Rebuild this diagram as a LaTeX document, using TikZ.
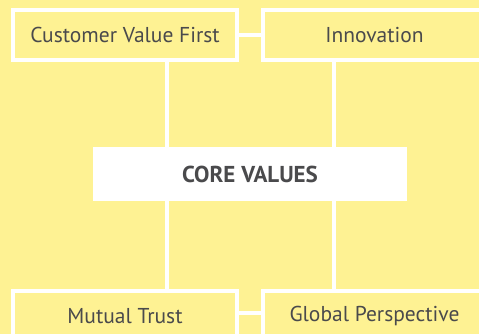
\documentclass[tikz,border=0pt]{standalone}
\usepackage{fontspec}
\setmainfont{PT Sans}
\definecolor{bgyellow}{HTML}{FEF293}
\definecolor{txtgray}{HTML}{4A4A4C}
\begin{document}
\begin{tikzpicture}[x=1pt,y=-1pt,
  valbox/.style={draw=white, line width=4pt, fill=bgyellow, minimum width=224pt, minimum height=50pt, inner sep=0pt, text=txtgray, font=\fontsize{21.5}{25}\selectfont},
  corebox/.style={fill=white, minimum width=314pt, minimum height=54pt, inner sep=0pt, text=txtgray, font=\fontsize{23}{27}\selectfont\bfseries},
  link/.style={draw=white, line width=4pt}]
\useasboundingbox (0,0) rectangle (479,334);
\fill[bgyellow] (0,0) rectangle (479,334);
\clip (0,0) rectangle (479,334);
\node[valbox] (TL) at (125,35) {Customer Value First};
\node[valbox] (TR) at (374.5,35) {Innovation};
\node[valbox] (BL) at (125,316) {Mutual Trust};
\node[valbox] (BR) at (374.5,316) {Global Perspective};
\draw[link] (TL.east) -- (TR.west);
\draw[link] ([yshift=3pt]BL.east) -- ([yshift=3pt]BR.west);
\draw[link] ([xshift=41.5pt]TL.south) -- ([xshift=41.5pt]BL.north);
\draw[link] ([xshift=-41pt]TR.south) -- ([xshift=-41pt]BR.north);
\node[corebox] (CV) at (250,174) {CORE VALUES};
\end{tikzpicture}
\end{document}
